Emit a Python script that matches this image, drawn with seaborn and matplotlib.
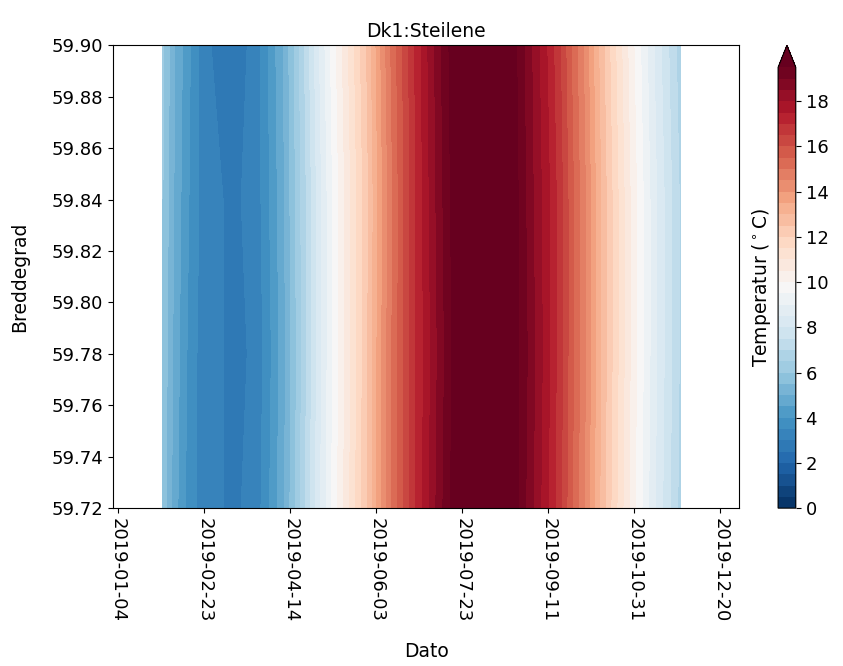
import numpy as np
import pandas as pd
import matplotlib
matplotlib.use("Agg")
import matplotlib.pyplot as plt
import matplotlib.dates as mdates
import seaborn as sns

# data: weekly temps for a few latitudes
datoer = pd.date_range("2019-01-30", periods=44, freq="7D")
breddegrader = [59.72, 59.78, 59.84, 59.90]

temp_5972 = [5.8, 4.7, 3.9, 3.4, 3.1, 3.0, 2.9, 3.1, 3.4, 4.1, 4.9, 6.0, 7.2, 8.4, 9.5,
             10.5, 11.5, 12.5, 13.8, 15.0, 16.0, 17.0, 17.9, 18.8, 19.6, 20.4, 21.0, 21.0,
             20.5, 19.9, 19.1, 18.3, 17.5, 16.6, 15.5, 14.5, 13.3, 12.2, 11.2, 10.2, 9.3,
             8.4, 7.6, 6.8]
temp_5978 = [5.9, 4.8, 4.0, 3.4, 3.1, 3.0, 2.8, 3.0, 3.3, 4.0, 4.8, 5.9, 7.1, 8.3, 9.4,
             10.4, 11.4, 12.5, 13.8, 15.0, 16.0, 17.0, 17.8, 18.7, 19.5, 20.3, 20.9, 20.9,
             20.4, 19.8, 19.2, 18.4, 17.6, 16.7, 15.6, 14.6, 13.4, 12.3, 11.3, 10.3, 9.4,
             8.5, 7.7, 6.9]
temp_5984 = [6.0, 4.9, 4.1, 3.5, 3.1, 3.0, 2.9, 3.1, 3.4, 4.1, 4.9, 6.0, 7.1, 8.3, 9.4,
             10.4, 11.4, 12.4, 13.7, 14.9, 16.0, 17.0, 17.9, 18.8, 19.6, 20.4, 21.0, 21.0,
             20.4, 19.9, 19.1, 18.3, 17.6, 16.7, 15.6, 14.6, 13.4, 12.3, 11.3, 10.3, 9.4,
             8.5, 7.7, 6.9]
temp_5990 = [6.1, 5.0, 4.2, 3.5, 3.0, 2.8, 2.6, 3.0, 3.4, 4.2, 5.0, 6.1, 7.3, 8.5, 9.6,
             10.6, 11.6, 12.6, 13.9, 15.1, 16.1, 17.1, 18.0, 18.9, 19.7, 20.5, 21.1, 21.0,
             20.3, 19.8, 19.0, 18.2, 17.4, 16.5, 15.4, 14.4, 13.2, 12.1, 11.1, 10.1, 9.2,
             8.3, 7.5, 6.7]

tick_datoer = pd.date_range("2019-01-04", periods=8, freq="50D")

Z = np.array([temp_5972, temp_5978, temp_5984, temp_5990])

sns.set_style("ticks", {"text.color": "black", "axes.labelcolor": "black",
                        "xtick.color": "black", "ytick.color": "black",
                        "axes.edgecolor": "black"})
plt.rcParams["font.family"] = ["DejaVu Sans"]
plt.rcParams["font.size"] = 13

fig = plt.figure(figsize=(8.43, 6.66), dpi=100)
ax = fig.add_axes([0.134, 0.237, 0.743, 0.695])
cax = fig.add_axes([0.923, 0.237, 0.021, 0.695])

cmap = sns.color_palette("RdBu_r", as_cmap=True)
cs = ax.contourf(datoer, breddegrader, Z, levels=np.arange(0, 20, 0.5),
                 cmap=cmap, extend="max")

ax.set_xlim(pd.Timestamp("2019-01-01"), pd.Timestamp("2019-12-31"))
ax.set_ylim(59.72, 59.90)
ax.set_yticks(np.arange(59.72, 59.901, 0.02))
ax.yaxis.set_major_formatter(matplotlib.ticker.FormatStrFormatter("%.2f"))
ax.set_xticks(tick_datoer)
ax.xaxis.set_major_formatter(mdates.DateFormatter("%Y-%m-%d"))
for lab in ax.get_xticklabels():
    lab.set_rotation(-90)
ax.tick_params(labelsize=13)

ax.set_title("Dk1:Steilene", fontsize=13.5)
ax.set_xlabel("Dato", fontsize=13.5, labelpad=14)
ax.set_ylabel("Breddegrad", fontsize=13.5, labelpad=16)

cb = fig.colorbar(cs, cax=cax, ticks=np.arange(0, 19, 2))
cb.set_label(r"Temperatur ($^\circ$C)", fontsize=13.5)
cb.ax.yaxis.set_label_position("left")
cb.ax.tick_params(labelsize=13)

fig.savefig("out.png", dpi=100)
